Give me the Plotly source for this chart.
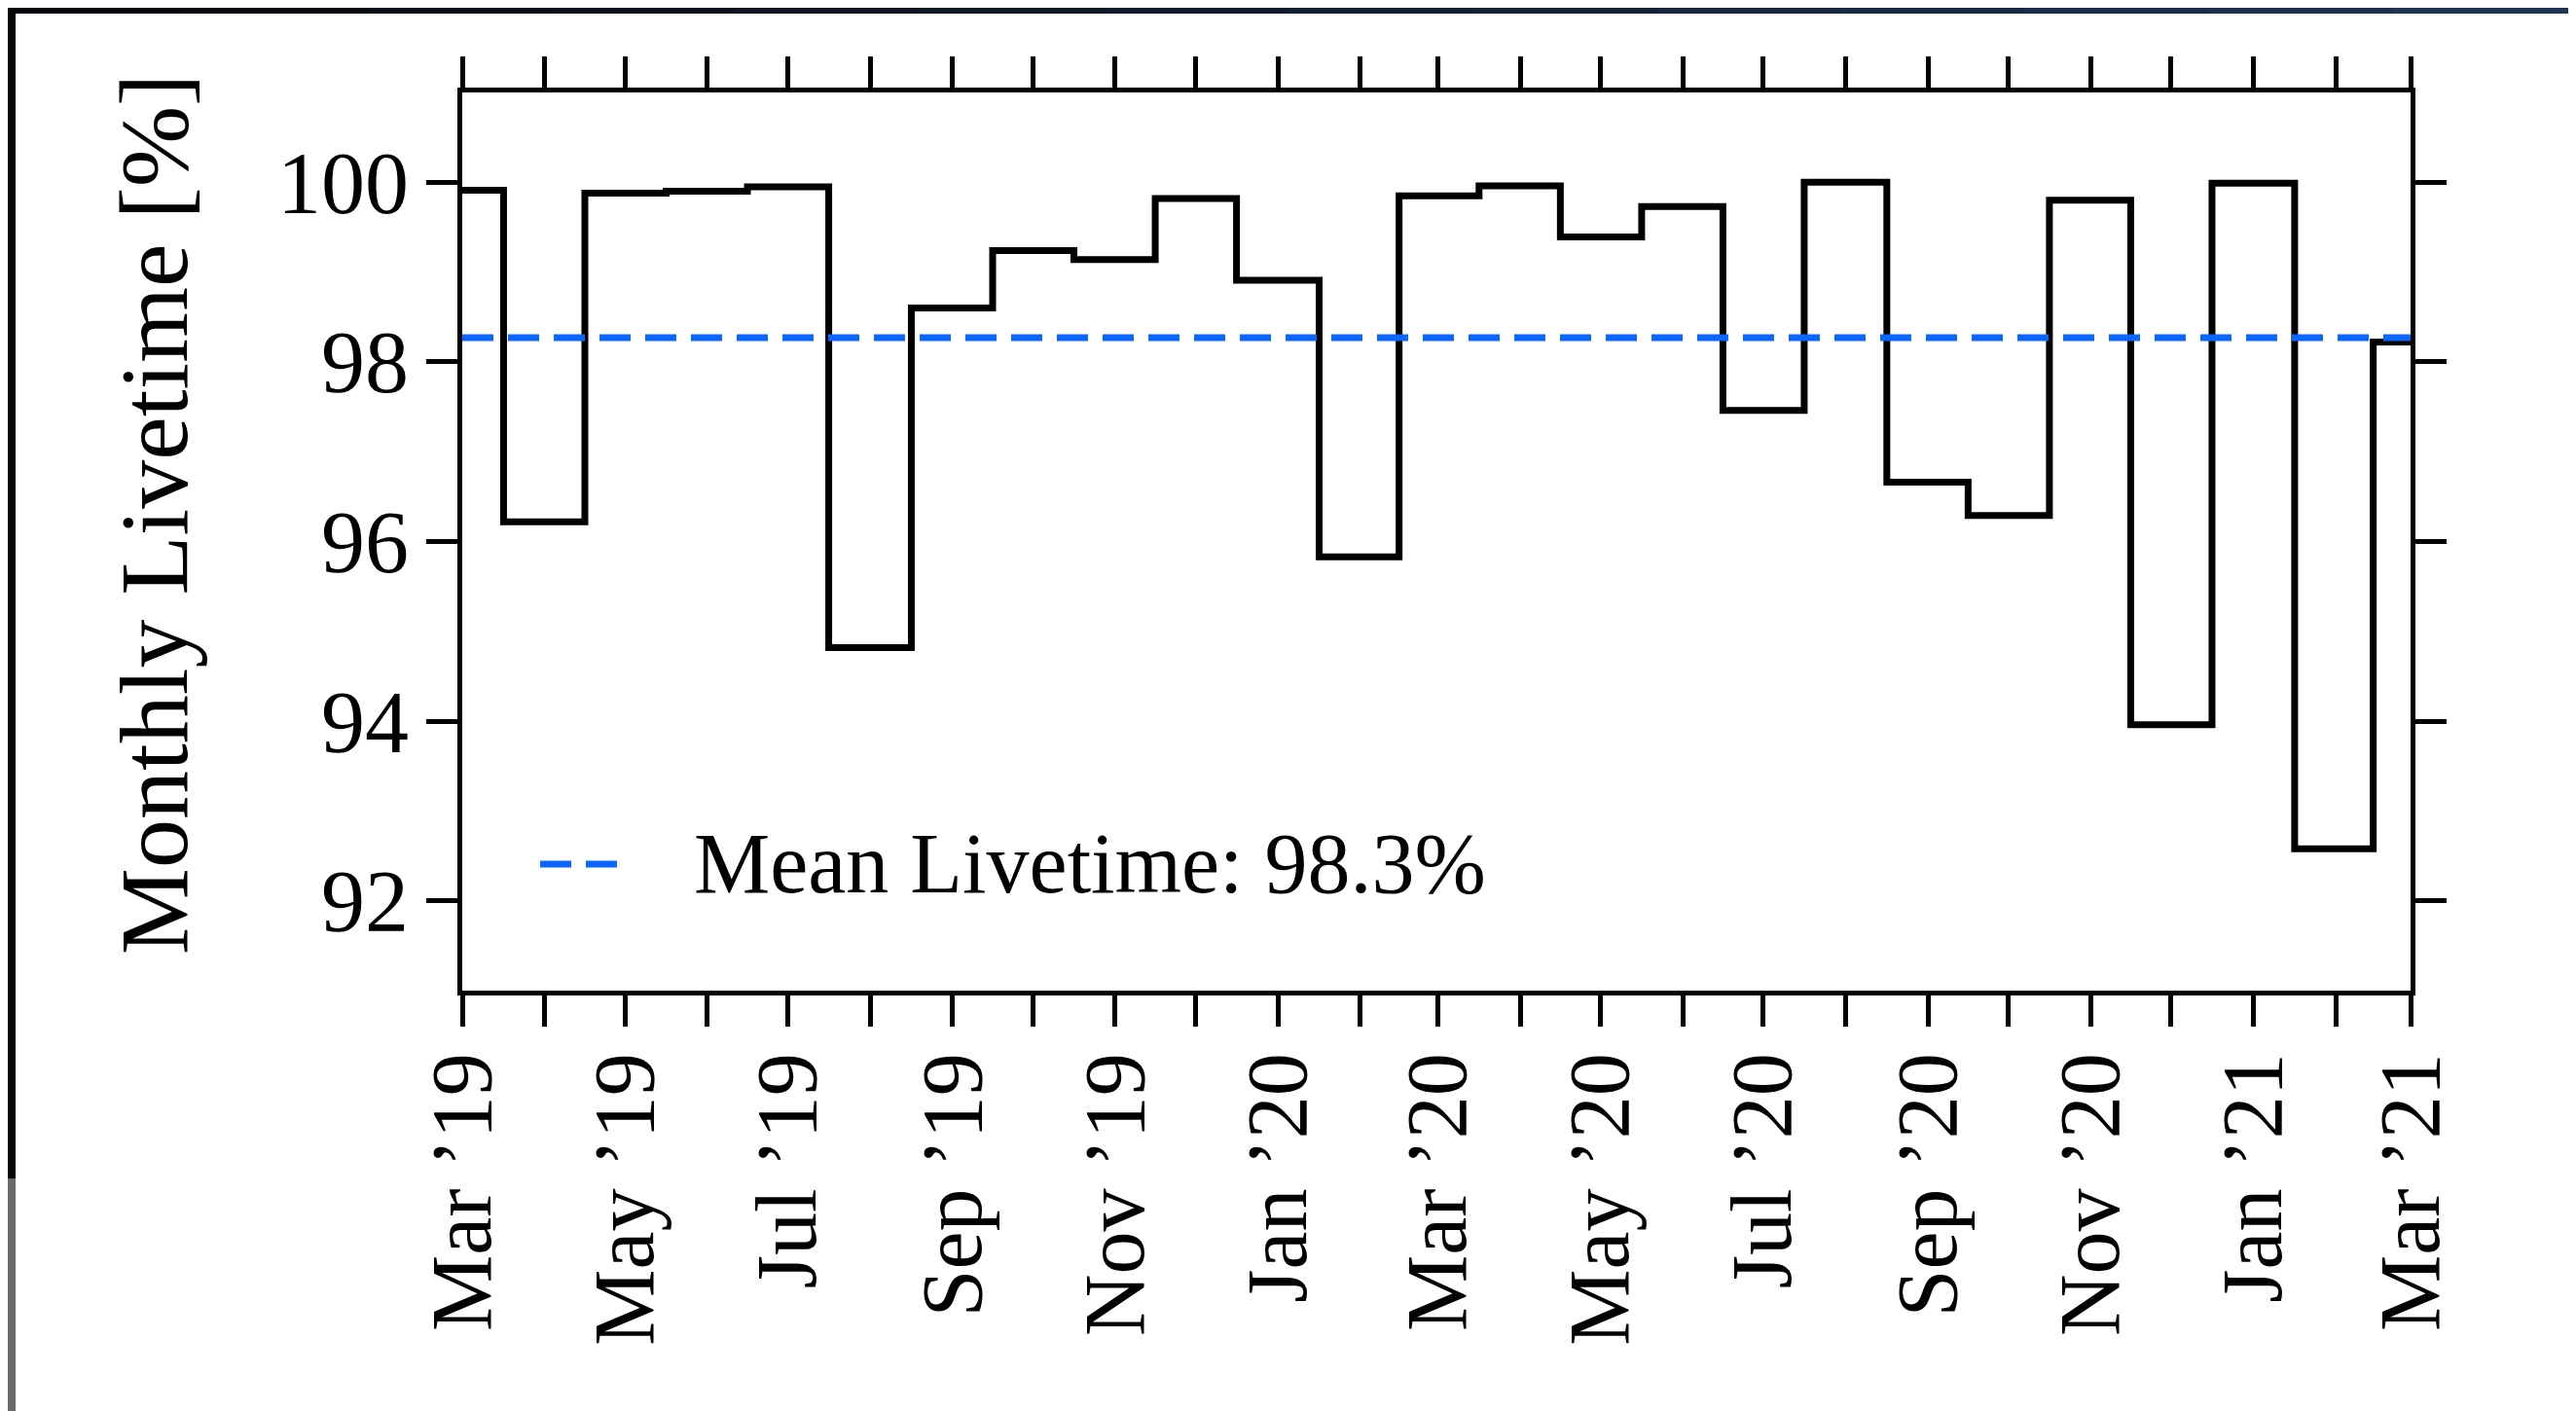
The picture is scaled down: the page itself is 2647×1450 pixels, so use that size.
import plotly.graph_objects as go

# ---- data ----
months = ["2019-03-01", "2019-04-01", "2019-05-01", "2019-06-01", "2019-07-01",
          "2019-08-01", "2019-09-01", "2019-10-01", "2019-11-01", "2019-12-01",
          "2020-01-01", "2020-02-01", "2020-03-01", "2020-04-01", "2020-05-01",
          "2020-06-01", "2020-07-01", "2020-08-01", "2020-09-01", "2020-10-01",
          "2020-11-01", "2020-12-01", "2021-01-01", "2021-02-01", "2021-03-01"]
livetime = [99.91, 96.22, 99.88, 99.90, 99.95,
            94.82, 98.60, 99.24, 99.14, 99.82,
            98.91, 95.83, 99.85, 99.96, 99.39,
            99.73, 97.46, 100.00, 96.66, 96.29,
            99.80, 93.96, 99.99, 92.58, 98.22]
mean_livetime = 98.27
mean_label = "Mean Livetime: 98.3%"

tick_labels = ["Mar ’19", "", "May ’19", "", "Jul ’19", "", "Sep ’19", "", "Nov ’19", "",
               "Jan ’20", "", "Mar ’20", "", "May ’20", "", "Jul ’20", "", "Sep ’20", "",
               "Nov ’20", "", "Jan ’21", "", "Mar ’21"]
y_ticks = [92, 94, 96, 98, 100]
y_title = "Monthly Livetime [%]"

# ---- layout geometry (screen pixels; page body has an 8px margin) ----
OFF = 8
W, H = 2647, 1450
L, R, T, B = 475, 2477, 95, 1018
pw, ph = R - L, B - T


def px_x(x):
    return (x - L) / pw


def px_y(y):
    return (B - y) / ph


FONT = "Liberation Serif"

fig = go.Figure()
fig.add_trace(go.Scatter(
    x=months, y=livetime, mode="lines", line=dict(shape="hvh", color="black", width=7),
    showlegend=False, hoverinfo="skip"))
fig.add_trace(go.Scatter(
    x=[months[0], months[-1]], y=[mean_livetime, mean_livetime], mode="lines",
    line=dict(color="#0a66ff", width=7, dash="32px,15px"),
    showlegend=False, hoverinfo="skip"))

shapes = []
# screenshot frame: top dark band (stepped gradient)
n = 14
c0, c1 = (6, 6, 12), (31, 53, 84)
for i in range(n):
    f = i / (n - 1)
    c = tuple(int(c0[k] + (c1[k] - c0[k]) * f) for k in range(3))
    shapes.append(dict(type="rect", xref="paper", yref="paper",
                       x0=px_x(i * W / n), x1=px_x((i + 1) * W / n + 2),
                       y0=px_y(14), y1=px_y(-5), line=dict(width=0),
                       fillcolor="rgb(%d,%d,%d)" % c))
shapes.append(dict(type="rect", xref="paper", yref="paper", x0=px_x(-5), x1=px_x(16),
                   y0=px_y(1211), y1=px_y(-5), line=dict(width=0), fillcolor="#050509"))
shapes.append(dict(type="rect", xref="paper", yref="paper", x0=px_x(-5), x1=px_x(16),
                   y0=px_y(1455), y1=px_y(1211), line=dict(width=0), fillcolor="#6a6a6a"))
# legend sample line
shapes.append(dict(type="line", xref="paper", yref="paper", x0=px_x(555), x1=px_x(634),
                   y0=px_y(888), y1=px_y(888),
                   line=dict(color="#0a66ff", width=7, dash="32px,15px")))

annotations = [
    dict(text=mean_label, xref="paper", yref="paper", x=px_x(711), y=px_y(887),
         xanchor="left", yanchor="middle", showarrow=False,
         font=dict(family=FONT, size=88, color="black")),
    dict(text=y_title, xref="paper", yref="paper", x=px_x(158), y=px_y(529),
         xanchor="center", yanchor="middle", textangle=-90, showarrow=False,
         font=dict(family=FONT, size=100, color="black")),
]

axis_common = dict(showline=True, linecolor="black", linewidth=5, mirror="ticks",
                   ticks="outside", ticklen=32, tickwidth=5, tickcolor="black",
                   showgrid=False, zeroline=False)

fig.update_layout(
    width=W - OFF, height=H - OFF,
    margin=dict(l=L - OFF, r=W - R, t=T - OFF, b=H - B, autoexpand=False),
    paper_bgcolor="white", plot_bgcolor="white",
    font=dict(family=FONT, color="black"),
    shapes=shapes, annotations=annotations,
    xaxis=dict(type="date", range=[months[0], months[-1]], tickmode="array",
               tickvals=months, ticktext=tick_labels, tickangle=-90,
               ticklabelstandoff=-8,
               tickfont=dict(family=FONT, size=88), **axis_common),
    yaxis=dict(range=[91, 101], tickmode="array", tickvals=y_ticks,
               ticktext=[str(v) for v in y_ticks],
               tickfont=dict(family=FONT, size=90), **axis_common),
)

fig.write_html("out.html")
